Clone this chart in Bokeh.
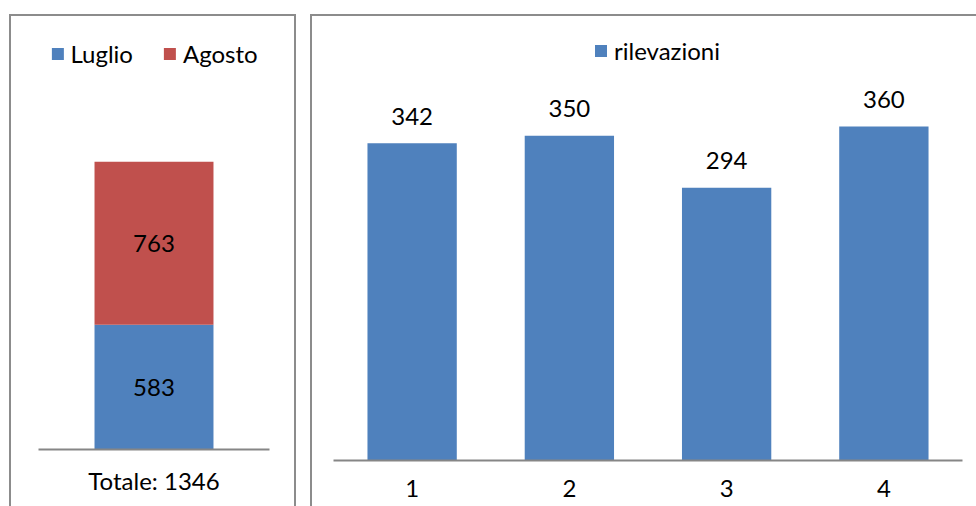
from bokeh.plotting import figure
from bokeh.layouts import row
from bokeh.models import ColumnDataSource
from bokeh.embed import file_html
from bokeh.resources import INLINE
from bokeh.core.properties import value

# Monthly totals (stacked)
months = ["Luglio", "Agosto"]
month_values = [583, 763]
month_colors = ["#4F81BD", "#C0504D"]

# Survey counts per week
weeks = ["1", "2", "3", "4"]
rilevazioni = [342, 350, 294, 360]
bar_color = "#4F81BD"

FONT = "Lato"
FS = "24px"
AXIS_GRAY = "#868686"
PANEL_STYLE = {"border": "2px solid #8c8c8c", "border-bottom": "none"}


def style_common(p):
    # each panel keeps its own plot area, independent of its neighbour
    try:
        p.frame_align = False
    except Exception:
        pass
    p.xgrid.visible = False
    p.ygrid.visible = False
    p.yaxis.visible = False
    p.outline_line_color = None
    ax = p.xaxis[0]
    ax.axis_label = None
    ax.axis_line_color = AXIS_GRAY
    ax.axis_line_width = 2
    ax.major_tick_line_color = None
    ax.minor_tick_line_color = None
    ax.major_tick_out = 0
    ax.major_tick_in = 0
    ax.major_label_text_font = FONT
    ax.major_label_text_font_size = FS
    ax.major_label_text_color = "black"
    lg = p.legend[0]
    lg.orientation = "horizontal"
    lg.border_line_color = None
    lg.background_fill_alpha = 0
    lg.label_text_font = FONT
    lg.label_text_font_size = FS
    lg.label_text_color = "black"
    lg.glyph_width = 15
    lg.glyph_height = 15
    lg.label_standoff = 6
    lg.spacing = 29
    lg.padding = 0


# ---- left panel: stacked monthly bar ----
total_label = f"Totale: {sum(month_values)}"
left_src = ColumnDataSource({"x": [total_label], **{m: [v] for m, v in zip(months, month_values)}})

p1 = figure(x_range=[total_label], y_range=(0, 1932), width=287, height=492,
            output_backend="svg", toolbar_location=None,
            min_border_left=27, min_border_right=29, min_border_top=20, min_border_bottom=59,
            margin=(14, 0, 0, 9), styles=PANEL_STYLE)
p1.vbar_stack(months, x="x", width=0.515, color=month_colors, line_color=None,
              source=left_src, legend_label=months)

mids = []
base = 0
for v in month_values:
    mids.append(base + v / 2)
    base += v
p1.text(x=[total_label] * len(month_values), y=mids, text=[str(v) for v in month_values],
        text_align="center", text_baseline="middle", text_font=value(FONT),
        text_font_size=FS, text_color="black")
style_common(p1)
p1.legend.location = "top_center"
p1.legend.margin = 3
p1.xaxis.major_label_standoff = 16

# ---- right panel: weekly counts ----
right_src = ColumnDataSource({"x": weeks, "y": rilevazioni, "lbl": [str(v) for v in rilevazioni]})
p2 = figure(x_range=weeks, y_range=(0, 457), width=666, height=492,
            output_backend="svg", toolbar_location=None,
            min_border_left=21, min_border_right=16, min_border_top=20, min_border_bottom=48,
            margin=(14, 0, 0, 14), styles={**PANEL_STYLE, "border-right": "none"})
p2.vbar(x="x", top="y", width=0.568, color=bar_color, line_color=None,
        source=right_src, legend_label="rilevazioni")
p2.text(x="x", y="y", text="lbl", source=right_src, y_offset=-27,
        text_align="center", text_baseline="middle", text_font=value(FONT),
        text_font_size=FS, text_color="black")
style_common(p2)
p2.legend.location = (260, 395)
p2.xaxis.major_label_standoff = 19

layout = row(p1, p2)
open("out.html", "w").write(file_html(layout, INLINE))
